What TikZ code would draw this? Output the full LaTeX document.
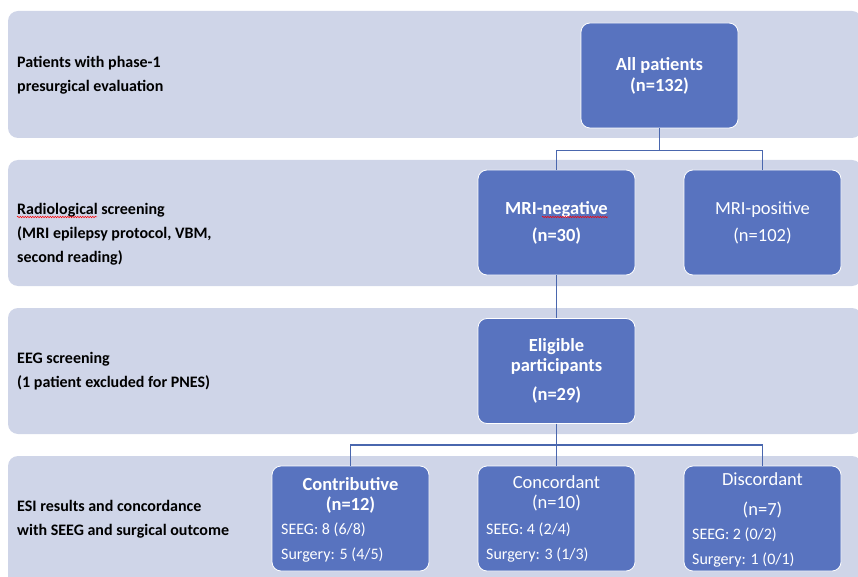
\documentclass[tikz,border=0pt]{standalone}
\usepackage{fontspec}
\setmainfont{Carlito}
\usetikzlibrary{decorations.pathmorphing}
\definecolor{bandfill}{HTML}{CFD5E8}
\definecolor{boxfill}{HTML}{5873BF}
\definecolor{linkcol}{HTML}{4A67AE}
\tikzset{
  band/.style={fill=bandfill, rounded corners=10pt},
  rowlabel/.style={anchor=west, align=left, inner sep=0pt, font=\bfseries\fontsize{16}{24}\selectfont},
  stagebox/.style={draw=white, line width=0.8pt, fill=boxfill, rounded corners=9pt,
    minimum width=157pt, minimum height=105pt, inner sep=0pt, text=white, align=center},
  boxtitle/.style={text=white, align=center, inner sep=0pt, font=\fontsize{18.5}{20}\selectfont},
  boxcount/.style={text=white, anchor=west, align=left, inner sep=0pt, font=\fontsize{16}{25}\selectfont},
  link/.style={draw=linkcol, line width=1.2pt},
  spell/.style={red, line width=0.5pt, decorate, decoration={snake, amplitude=0.7pt, segment length=2.5pt}}
}
\begin{document}
\begin{tikzpicture}[x=1pt, y=-1pt]
    \useasboundingbox (0,0) rectangle (858,577);
    \clip (0,0) rectangle (858,577);
    \fill[band] (8,11) rectangle (862,138);
    \fill[band] (8,160) rectangle (862,286);
    \fill[band] (8,308) rectangle (862,434);
    \fill[band] (8,456) rectangle (862,600);

    \node[rowlabel] (lbl1) at (17,75) {Patients with phase-1\\presurgical evaluation};
    \node[rowlabel] (lbl2) at (17,234) {Radiological screening\\(MRI epilepsy protocol, VBM,\\second reading)};
    \node[rowlabel] (lbl3) at (17,371) {EEG screening\\(1 patient excluded for PNES)};
    \node[rowlabel] (lbl4) at (17,519) {ESI results and concordance\\with SEEG and surgical outcome};
    \draw[spell] (17,217) -- (97,217);

    \node[stagebox, font=\bfseries\fontsize{18.5}{21}\selectfont] (allp) at (659.5,75.5) {All patients\\(n=132)};
    \node[stagebox, font=\bfseries\fontsize{18.5}{21}\selectfont] (mrineg) at (556.5,222.5) {MRI-negative\\[6pt](n=30)};
    \node[stagebox, font=\fontsize{18.5}{21}\selectfont] (mripos) at (762.5,222.5) {MRI-positive\\[6pt](n=102)};
    \draw[spell] (542,217) -- (608,217);
    \node[stagebox, font=\bfseries\fontsize{18.5}{20}\selectfont] (elig) at (556.5,371) {Eligible\\participants\\[9pt](n=29)};

    \node[stagebox] (contrib) at (350.5,518.5) {};
    \node[stagebox] (conc) at (556.5,518.5) {};
    \node[stagebox] (disc) at (762.5,518.5) {};
    \node[boxtitle, font=\bfseries\fontsize{18.5}{20}\selectfont] (contribT) at (350.5,495) {Contributive\\(n=12)};
    \node[boxtitle] (concT) at (556.5,493) {Concordant\\(n=10)};
    \node[boxtitle, font=\fontsize{18.5}{30}\selectfont] (discT) at (762.5,495) {Discordant\\(n=7)};
    \node[boxcount] (contribN) at (281,543) {SEEG: 8 (6/8)\\Surgery: 5 (4/5)};
    \node[boxcount] (concN) at (486,543) {SEEG: 4 (2/4)\\Surgery: 3 (1/3)};
    \node[boxcount] (discN) at (692,548) {SEEG: 2 (0/2)\\Surgery: 1 (0/1)};

    \draw[link] (allp.south) -- ++(0,22) -| (mrineg.north);
    \draw[link] (allp.south) -- ++(0,22) -| (mripos.north);
    \draw[link] (mrineg.south) -- (elig.north);
    \draw[link] (elig.south) -- ++(0,21) -| (contrib.north);
    \draw[link] (elig.south) -- ++(0,21) -| (disc.north);
    \draw[link] (elig.south) -- (conc.north);
\end{tikzpicture}
\end{document}
